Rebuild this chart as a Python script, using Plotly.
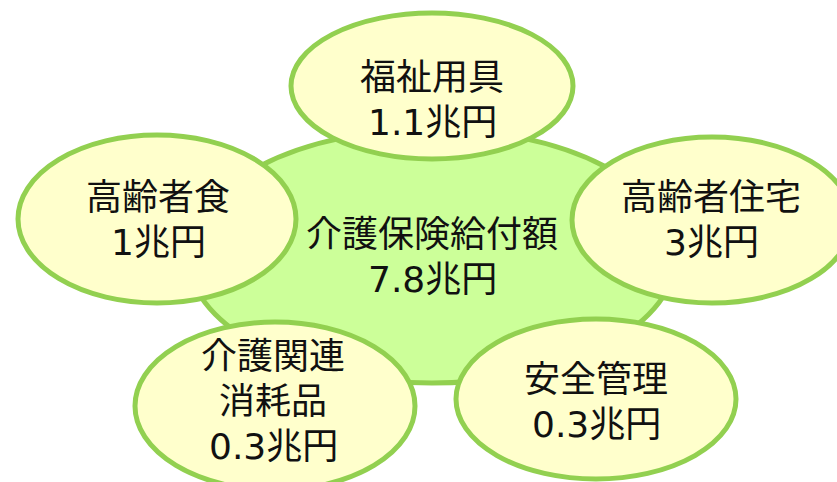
import plotly.graph_objects as go

# Data
center_label = "介護保険給付額"
center_value = 7.8
categories = ["福祉用具", "高齢者食", "高齢者住宅", "介護関連<br>消耗品", "安全管理"]
values = [1.1, 1, 3, 0.3, 0.3]
unit = "兆円"

# Layout geometry (pixels)
W, H = 837, 482
center_ellipse = dict(cx=432, cy=256, rx=244, ry=127)
outer_ellipses = [
    dict(cx=432, cy=86, rx=141, ry=73),
    dict(cx=157, cy=219, rx=139, ry=84),
    dict(cx=712, cy=220, rx=140, ry=83),
    dict(cx=275, cy=406, rx=140, ry=84),
    dict(cx=596, cy=399, rx=140, ry=80),
]
text_pos = [(432, 100), (158, 220), (711, 220), (273, 401), (596, 402)]
center_text_pos = (432, 257)
LINE_GAP = 45

BORDER = "#92D050"
CENTER_FILL = "#CCFF99"
OUTER_FILL = "#FFFFCC"

def fmt(v):
    return f"{v:g}" + unit

fig = go.Figure()
fig.add_trace(go.Scatter(x=[0, W], y=[0, H], mode="markers",
                         marker=dict(opacity=0), hoverinfo="skip", showlegend=False))

shapes = []
for e, fill in [(center_ellipse, CENTER_FILL)] + [(o, OUTER_FILL) for o in outer_ellipses]:
    shapes.append(dict(type="circle", xref="x", yref="y",
                       x0=e["cx"] - e["rx"], x1=e["cx"] + e["rx"],
                       y0=e["cy"] - e["ry"], y1=e["cy"] + e["ry"],
                       fillcolor=fill, line=dict(color=BORDER, width=5), layer="above"))

FONT = dict(family="DejaVu Sans, Noto Sans CJK JP, sans-serif", size=36, color="#111111")
annotations = []

def add_block(cx, cy, text):
    lines = text.split("<br>")
    n = len(lines)
    for i, ln in enumerate(lines):
        y = cy + (i - (n - 1) / 2) * LINE_GAP
        annotations.append(dict(x=cx, y=y, xref="x", yref="y", text=ln, showarrow=False,
                                font=FONT, xanchor="center", yanchor="middle", align="center"))

add_block(*center_text_pos, f"{center_label}<br>{fmt(center_value)}")
for (tx, ty), cat, v in zip(text_pos, categories, values):
    add_block(tx, ty, f"{cat}<br>{fmt(v)}")

fig.update_layout(
    width=W, height=H,
    margin=dict(l=0, r=0, t=0, b=0),
    paper_bgcolor="white", plot_bgcolor="white",
    xaxis=dict(range=[0, W], visible=False, fixedrange=True),
    yaxis=dict(range=[H, 0], visible=False, fixedrange=True),
    shapes=shapes, annotations=annotations,
    showlegend=False,
)

fig.write_html("out.html")
